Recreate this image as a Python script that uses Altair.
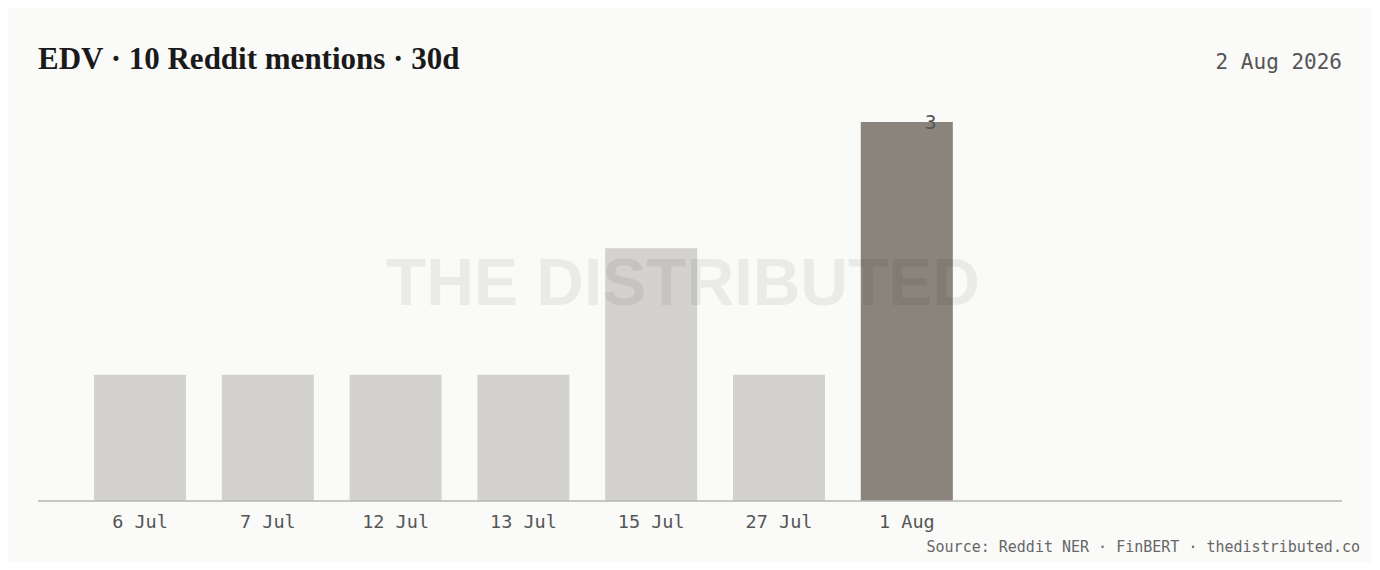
import altair as alt
import pandas as pd

dates = ["6 Jul", "7 Jul", "12 Jul", "13 Jul", "15 Jul", "27 Jul", "1 Aug"]
mentions = [1, 1, 1, 1, 2, 1, 3]
highlight = "1 Aug"

title_text = "EDV · 10 Reddit mentions · 30d"
date_text = "2 Aug 2026"
source_text = "Source: Reddit NER · FinBERT · thedistributed.co"
watermark_text = "THE DISTRIBUTED"

df = pd.DataFrame({"date": dates, "mentions": mentions})

W, H = 1304, 379
MONO = "DejaVu Sans Mono"
BG = "#fafaf8"

xscale = alt.Scale(domain=dates, range=[56, 56 + 6.72 * 127.8], paddingInner=0.28, paddingOuter=0)
yscale = alt.Scale(domain=[0, 3], nice=False)

base = alt.Chart(df)

bars = base.mark_bar().encode(
    x=alt.X("date:N", scale=xscale, sort=dates,
            axis=alt.Axis(title=None, domain=False, ticks=False, labelAngle=0,
                          labelFont=MONO, labelFontSize=18.5, labelColor="#555555",
                          labelPadding=11)),
    y=alt.Y("mentions:Q", scale=yscale, axis=None),
    color=alt.condition(alt.datum.date == highlight, alt.value("#8a847c"), alt.value("#d3d2ce")),
)

value_label = base.transform_joinaggregate(mx="max(mentions)").transform_filter(
    "datum.mentions == datum.mx"
).mark_text(font=MONO, fontSize=19, color="#555555", dx=24, dy=1, baseline="middle").encode(
    x=alt.X("date:N", scale=xscale, sort=dates),
    y=alt.Y("mentions:Q", scale=yscale),
    text="mentions:Q",
)

one = alt.Data(values=[{"a": 1}])

baseline = alt.Chart(one).mark_rule(color="#b5b4b1", strokeWidth=1.5).encode(
    x=alt.value(0), x2=alt.value(W), y=alt.value(H)
)

watermark = alt.Chart(one).mark_text(
    text=watermark_text, font="Liberation Sans", fontWeight="bold", fontSize=66,
    color="#000000", opacity=0.06, align="center", baseline="middle"
).encode(x=alt.value(645), y=alt.value(163))

title = alt.Chart(one).mark_text(
    text=title_text, font="Liberation Serif", fontWeight="bold", fontSize=31,
    color="#1a1a1a", align="left", baseline="middle"
).encode(x=alt.value(0), y=alt.value(-62))

date_lbl = alt.Chart(one).mark_text(
    text=date_text, font=MONO, fontSize=21, color="#555555", align="right", baseline="middle"
).encode(x=alt.value(W), y=alt.value(-59))

source = alt.Chart(one).mark_text(
    text=source_text, font=MONO, fontSize=15, color="#666666", align="right", baseline="middle"
).encode(x=alt.value(1322), y=alt.value(425))

chart = alt.layer(bars, watermark, baseline, value_label, title, date_lbl, source).properties(
    width=W, height=H,
    autosize=alt.AutoSizeParams(type="none"),
    padding={"left": 30, "top": 114, "right": 30, "bottom": 61},
    background=BG,
).configure_view(stroke=None)

chart.save("out.html", embed_options={"renderer": "svg", "actions": False})
